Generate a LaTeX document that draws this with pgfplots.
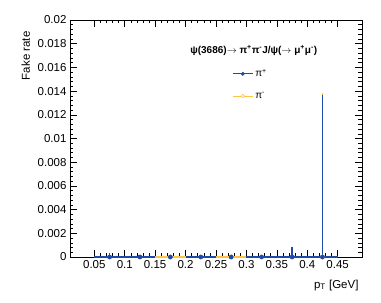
\documentclass[border=0pt]{standalone}
\usepackage{fontspec}
\setmainfont{Liberation Sans}
\usepackage{pgfplots}
\pgfplotsset{compat=1.18}
\usepackage{pgfplotstable}
\definecolor{rblue}{RGB}{30,75,170}
\definecolor{rorange}{RGB}{255,195,70}
\pgfplotstableread{
x y ex ey
0.175 0 0.025 0
0.275 0 0.025 0
0.425 0 0.025 0.01365
}\pimtab
\pgfplotstableread{
x y ex ey
0.075 0 0.025 0.0002
0.125 0 0.025 0
0.175 0 0 0
0.225 0 0.025 0
0.275 0 0 0
0.325 0 0.025 0
0.375 0 0.025 0.0007
0.425 0 0.025 0.0135
}\piptab
\begin{document}
\begin{tikzpicture}
\useasboundingbox (0,0) rectangle (381pt,303pt);
\begin{axis}[
  at={(70pt,46pt)}, anchor=south west,
  width=292pt, height=237pt, scale only axis,
  xmin=0.01, xmax=0.49, ymin=0, ymax=0.02,
  clip=false,
  scaled x ticks=false, scaled y ticks=false,
  xtick={0.05,0.1,0.15,0.2,0.25,0.3,0.35,0.4,0.45},
  xticklabels={0.05,0.1,0.15,0.2,0.25,0.3,0.35,0.4,0.45},
  ytick={0,0.002,0.004,0.006,0.008,0.01,0.012,0.014,0.016,0.018,0.02},
  yticklabels={0,0.002,0.004,0.006,0.008,0.01,0.012,0.014,0.016,0.018,0.02},
  minor x tick num=4, minor y tick num=4,
  tick align=inside, major tick length=7pt, minor tick length=3.5pt,
  xtick pos=both, ytick pos=both,
  tick style={black, line width=0.5pt},
  axis line style={line width=0.7pt},
  ticklabel style={font=\fontsize{11.5}{13}\selectfont},
  every axis x label/.style={at={(axis description cs:1,-0.131)}, anchor=base east, font=\fontsize{11.5}{13}\selectfont},
  every axis y label/.style={at={(axis description cs:-0.137,0.966)}, anchor=base east, rotate=90, font=\fontsize{11.5}{13}\selectfont},
  xlabel={p\textsubscript{T} [GeV]},
  ylabel={Fake rate},
  legend style={at={(axis description cs:0.545,0.81)}, anchor=north west, draw=none, fill=none,
    font=\fontsize{10}{12}\selectfont, row sep=10pt},
  legend cell align=left,
]
% pi- horizontal bars
\addplot[color=rorange, only marks, mark=*, mark size=0.01pt, forget plot,
  error bars/.cd, x dir=both, x explicit, error mark=none,
  error bar style={draw=rorange, line width=1.3pt}]
  table[x=x, y=y, x error=ex] {\pimtab};
% pi- vertical bars + marks
\addplot[color=rorange, only marks, mark=o, mark size=2pt, line width=0.7pt, forget plot,
  error bars/.cd, y dir=plus, y explicit, error mark=-, error mark options={mark size=2pt, line width=1.2pt},
  error bar style={draw=rorange, line width=1.2pt}]
  table[x=x, y=y, y error=ey] {\pimtab};
% pi+ horizontal bars
\addplot[color=rblue, only marks, mark=*, mark size=0.01pt, forget plot,
  error bars/.cd, x dir=both, x explicit, error mark=none,
  error bar style={draw=rblue, line width=1.3pt}]
  table[x=x, y=y, x error=ex] {\piptab};
% pi+ vertical bars + marks
\addplot[color=rblue, only marks, mark=*, mark size=2pt, line width=0.7pt, forget plot,
  error bars/.cd, y dir=plus, y explicit, error mark=-, error mark options={mark size=2pt, line width=1.2pt},
  error bar style={draw=rblue, line width=1.2pt}]
  table[x=x, y=y, y error=ey] {\piptab};
\addlegendimage{legend image code/.code={\draw[rblue, line width=1pt] (0pt,0pt) -- (20pt,0pt); \fill[rblue] (10pt,0pt) circle (1.8pt);}}
\addlegendentry{π\textsuperscript{+}}
\addlegendimage{legend image code/.code={\draw[rorange, line width=1pt] (0pt,0pt) -- (20pt,0pt); \draw[rorange, fill=white, line width=0.6pt] (10pt,0pt) circle (1.8pt);}}
\addlegendentry{π\textsuperscript{-}}
\node[anchor=base west, font=\bfseries\fontsize{10}{12}\selectfont] at (axis description cs:0.40,0.86)
  {ψ(3686)$\rightarrow$ π\textsuperscript{+}π\textsuperscript{-}J/ψ($\rightarrow$ μ\textsuperscript{+}μ\textsuperscript{-})};
\end{axis}
\end{tikzpicture}
\end{document}
